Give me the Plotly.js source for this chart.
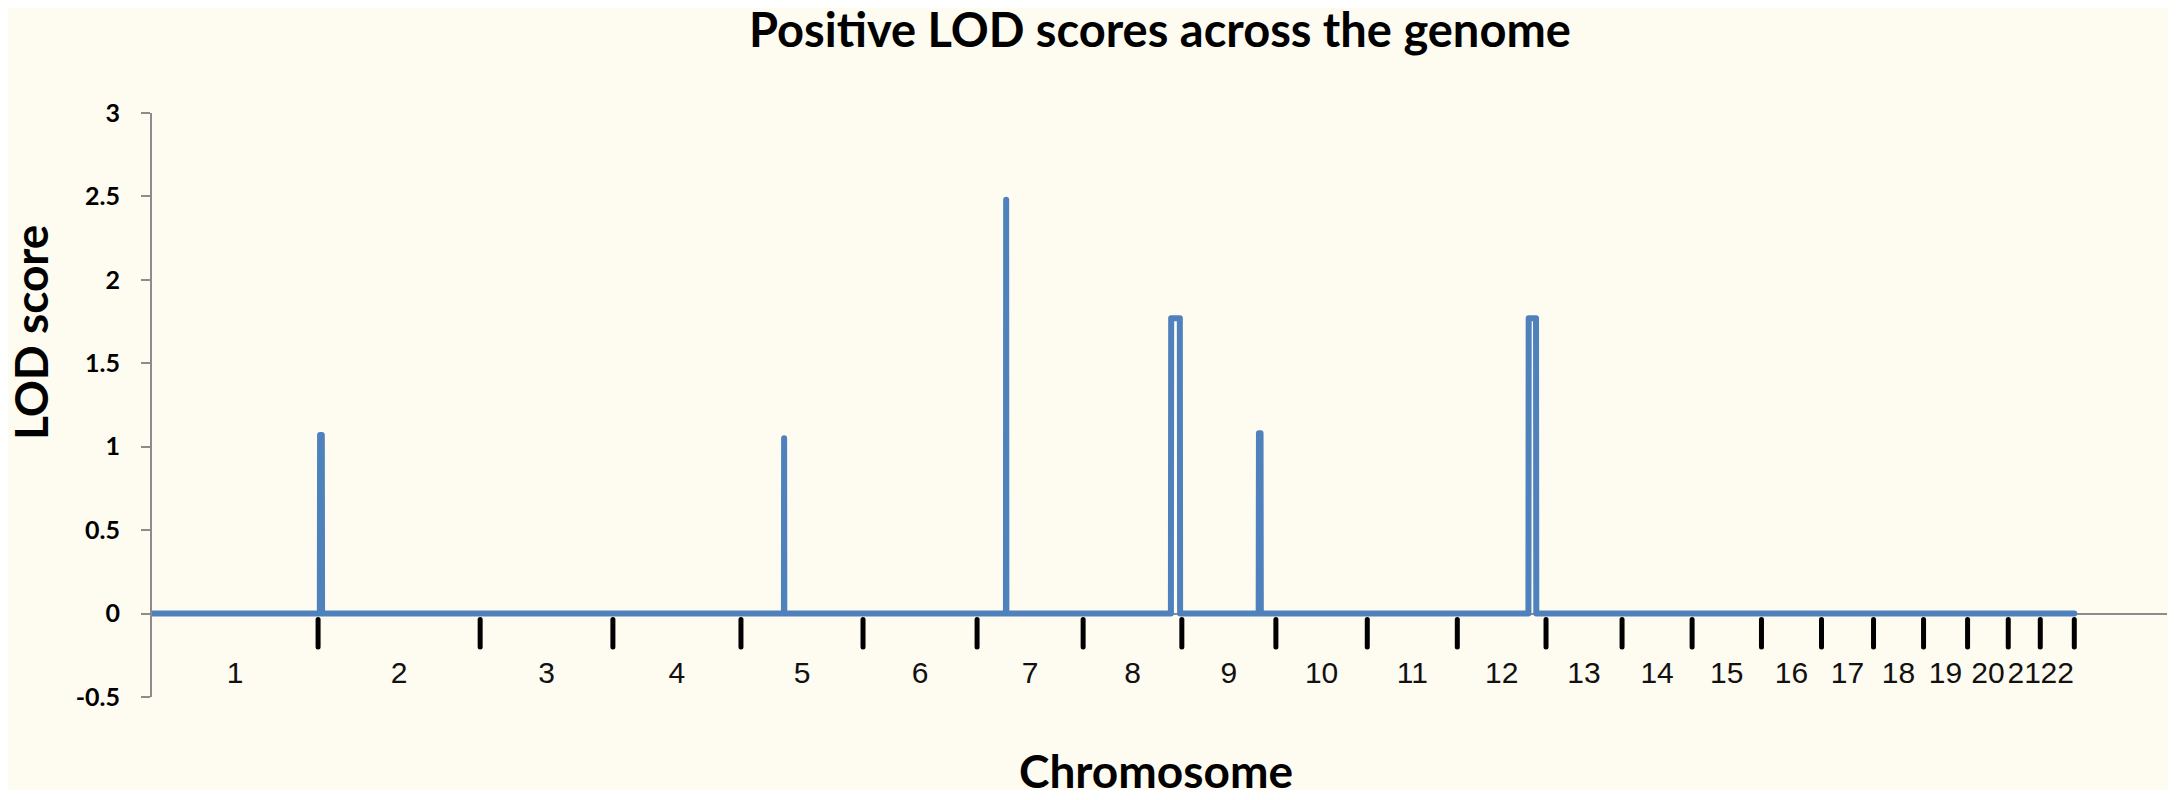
<!DOCTYPE html>
<html>
<head>
<meta charset="utf-8">
<script src="https://cdn.plot.ly/plotly-3.0.1.min.js"></script>
<style>
  html, body { margin: 0; padding: 0; background: #ffffff; }
  #lodPlot { width: 2180px; height: 800px; }
  /* rounded joins and ends like the original chart */
  #lodPlot path.js-line { stroke-linejoin: round; stroke-linecap: round; }
</style>
</head>
<body>
<div id="lodPlot"></div>
<script>
const chromNames = ['1', '2', '3', '4', '5', '6', '7', '8', '9', '10', '11',
  '12', '13', '14', '15', '16', '17', '18', '19', '20', '21', '22'];
const chromEnds = [249, 492, 691, 883, 1066, 1237, 1396, 1544, 1685, 1822, 1957,
  2090, 2204, 2309, 2413, 2503, 2581, 2656, 2722, 2783, 2831, 2882];

// Genome-wide position (Mb) and LOD score of the plotted line.
const lodPos = [0, 251.6, 252.0, 254.6, 255.0, 947.4, 947.7, 948.0, 1280.3, 1280.6, 1280.9,
  1527.6, 1528.0, 1541.0, 1541.4, 1659.2, 1659.6, 1662.0, 1662.4,
  2063.6, 2064.0, 2075.0, 2075.4, 2882];
const lodVal = [0, 0, 1.07, 1.07, 0, 0, 1.05, 0, 0, 2.48, 0,
  0, 1.77, 1.77, 0, 0, 1.08, 1.08, 0,
  0, 1.77, 1.77, 0, 0];

// Y axis ticks.
const yTickVals = [-0.5, 0, 0.5, 1, 1.5, 2, 2.5, 3];
const yTickText = ['-0.5', '0', '0.5', '1', '1.5', '2', '2.5', '3'];

// Build the boundary ticks and label positions from the chromosome ends.
const tickX = [];
const tickY = [];
chromEnds.forEach(end => {
  tickX.push(end, end, null);
  tickY.push(-0.035, -0.2, null);
});
const labelX = chromEnds.map((end, i) => ((i === 0 ? 0 : chromEnds[i - 1]) + end) / 2);
const labelY = chromNames.map(() => -0.371);

const traces = [
  { x: tickX, y: tickY, type: 'scatter', mode: 'lines', line: {color: '#000000', width: 5}, hoverinfo: 'skip' },
  { x: lodPos, y: lodVal, type: 'scatter', mode: 'lines', line: {color: '#4F81BD', width: 6}, name: 'LOD' },
  {
    x: labelX, y: labelY, text: chromNames, type: 'scatter', mode: 'text',
    textposition: 'middle center',
    textfont: {family: 'Liberation Sans, Arial, sans-serif', size: 30, color: '#111111'},
    hoverinfo: 'skip'
  }
];

const layout = {
  width: 2180,
  height: 800,
  margin: {l: 152, r: 13, t: 113, b: 103},
  paper_bgcolor: '#ffffff',
  plot_bgcolor: 'rgba(0,0,0,0)',
  showlegend: false,
  title: {
    text: '<b>Positive LOD scores across the genome</b>',
    font: {family: 'Lato, sans-serif', size: 47, color: '#000000'},
    xref: 'container', x: 0.5321, xanchor: 'center',
    yref: 'container', y: 0.9613, yanchor: 'middle'
  },
  xaxis: {
    range: [0, 3021],
    showgrid: false,
    zeroline: false,
    showline: false,
    showticklabels: false,
    ticks: ''
  },
  yaxis: {
    range: [-0.5, 3],
    tickvals: yTickVals,
    ticktext: yTickText,
    tickfont: {family: 'Lato, sans-serif', size: 25, color: '#000000', weight: 'bold'},
    ticks: 'outside',
    ticklen: 9,
    tickwidth: 2,
    tickcolor: '#8C8C8C',
    ticklabelstandoff: 16,
    showline: true,
    linecolor: '#8C8C8C',
    linewidth: 2,
    showgrid: false,
    zeroline: true,
    zerolinecolor: '#8C8C8C',
    zerolinewidth: 2
  },
  shapes: [
    {
      type: 'rect', xref: 'paper', yref: 'paper', layer: 'below',
      x0: -0.0715, x1: 1.0005, y0: -0.1592, y1: 1.1798,
      fillcolor: '#FEFBF0', line: {width: 0}
    }
  ],
  annotations: [
    {
      text: '<b>LOD score</b>', textangle: -90,
      xref: 'paper', yref: 'paper', x: -0.0605, y: 0.625,
      xanchor: 'center', yanchor: 'middle', showarrow: false,
      font: {family: 'Lato, sans-serif', size: 46, color: '#000000'}
    },
    {
      text: '<b>Chromosome</b>',
      xref: 'paper', yref: 'paper', x: 0.4983, y: -0.125,
      xanchor: 'center', yanchor: 'middle', showarrow: false,
      font: {family: 'Lato, sans-serif', size: 46, color: '#000000'}
    }
  ]
};

Plotly.newPlot('lodPlot', traces, layout, {staticPlot: true, displayModeBar: false});
</script>
</body>
</html>
